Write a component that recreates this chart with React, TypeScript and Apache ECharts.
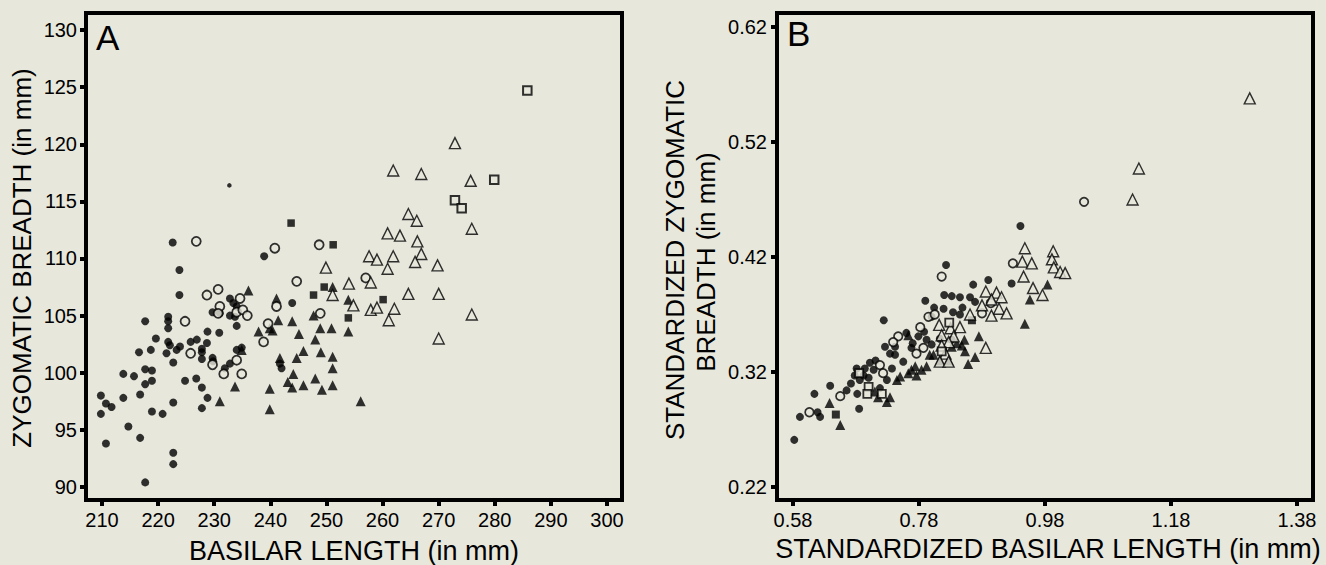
import React, { useEffect, useRef } from "react";
import * as echarts from "echarts";

// ---------- Panel A (raw values) ----------
const aFilledCircle: number[][] = [
  [222.6,111.4],[223.8,109.0],[238.9,110.2],[223.8,106.8],[217.7,104.5],[219.6,103.0],[218.7,102.0],[216.6,101.8],
  [213.8,99.9],[215.7,99.7],[217.7,100.3],[218.9,100.2],[218.9,99.3],[217.7,99.0],[216.8,98.1],[213.8,97.8],
  [209.8,98.0],[209.8,96.4],[210.7,97.3],[211.7,97.0],[210.7,93.8],[214.7,95.3],[216.8,94.3],[218.9,96.6],
  [220.8,96.4],[222.7,93.0],[222.7,92.0],[217.7,90.4],[222.7,97.4],[224.8,99.3],[226.8,99.5],[227.8,98.7],
  [228.8,97.8],[227.8,96.9],[222.7,100.9],[221.5,101.7],[222.1,102.4],[223.3,102.0],[223.9,102.3],[221.8,102.7],
  [221.8,103.9],[221.8,104.5],[221.8,104.9],[225.8,102.7],[226.9,102.9],[227.8,102.1],[227.8,101.8],[228.7,102.6],
  [228.8,103.6],[227.8,101.2],[229.7,101.3],[229.8,101.0],[230.9,103.5],[229.7,105.3],[231.0,105.2],[232.8,106.5],
  [233.4,106.1],[232.8,105.0],[233.7,104.9],[234.0,105.8],[234.0,104.1],[234.9,102.2],[234.0,102.0],[232.8,100.8],
  [231.9,100.4],[243.9,106.1],[241.7,100.8],[242.0,100.4]
];
const aOpenCircle: number[][] = [
  [226.8,111.5],[240.8,110.9],[248.7,111.2],[244.7,108.0],[257.0,108.3],[228.7,106.8],[230.7,107.3],[224.8,104.5],
  [225.8,101.7],[229.7,100.7],[231.0,105.8],[230.7,105.2],[234.6,106.5],[234.0,105.3],[235.1,105.5],[235.9,105.0],
  [234.0,101.1],[231.7,99.9],[234.9,99.9],[238.8,102.7],[239.6,104.3],[241.1,105.8],[248.9,105.2]
];
const aFilledTriangle: number[][] = [
  [236.1,107.2],[241.1,106.5],[241.4,104.6],[239.9,103.9],[237.9,103.6],[240.4,103.7],[243.9,104.5],[245.1,103.4],
  [247.7,105.0],[248.9,103.9],[250.9,103.9],[248.0,102.9],[245.9,101.9],[244.7,101.3],[249.0,101.8],[251.1,101.4],
  [251.1,100.4],[251.1,98.9],[244.1,99.9],[243.1,99.2],[243.9,98.7],[245.9,98.9],[248.0,99.5],[249.2,98.5],
  [239.9,98.6],[239.9,96.8],[234.9,102.0],[233.7,98.8],[231.0,97.5],[256.1,97.5],[253.9,103.6],[253.9,106.4],
  [251.1,107.5],[241.7,101.3]
];
const aOpenTriangle: number[][] = [
  [272.9,120.1],[261.9,117.7],[266.9,117.4],[275.7,116.8],[264.6,113.9],[266.1,113.3],[260.9,112.2],[263.1,112.0],
  [275.9,112.6],[266.2,111.5],[266.9,110.4],[265.8,109.7],[257.6,110.2],[259.0,109.9],[261.9,110.2],[260.9,109.1],
  [269.8,109.4],[249.9,109.2],[254.0,107.8],[257.9,107.9],[251.1,106.8],[254.8,105.9],[257.9,105.5],[259.0,105.7],
  [262.1,105.6],[261.1,104.6],[264.6,106.9],[270.0,106.9],[275.9,105.1],[270.0,103.0]
];
const aFilledSquare: number[][] = [[243.7,113.1],[251.2,111.2],[247.7,106.8],[249.6,107.5],[260.1,106.4],[253.9,104.8]];
const aOpenSquare: number[][] = [[285.8,124.7],[279.9,116.9],[272.9,115.1],[274.1,114.4]];
const aSmallDot: number[][] = [[232.7,116.4]];

// ---------- Panel B (standardized values) ----------
const bFilledCircle: number[][] = [
  [0.823,0.413],[0.941,0.447],[0.927,0.397],[0.866,0.396],[0.890,0.400],[0.820,0.387],[0.832,0.386],[0.845,0.385],
  [0.861,0.385],[0.790,0.382],[0.804,0.376],[0.819,0.375],[0.834,0.372],[0.849,0.376],[0.869,0.381],[0.724,0.365],
  [0.845,0.370],[0.800,0.368],[0.760,0.354],[0.779,0.351],[0.788,0.355],[0.792,0.348],[0.800,0.344],[0.813,0.349],
  [0.832,0.348],[0.726,0.342],[0.742,0.342],[0.734,0.336],[0.742,0.335],[0.768,0.341],[0.755,0.329],[0.737,0.323],
  [0.702,0.328],[0.694,0.323],[0.692,0.317],[0.681,0.323],[0.678,0.317],[0.672,0.310],[0.665,0.304],[0.682,0.301],
  [0.729,0.313],[0.718,0.306],[0.639,0.308],[0.614,0.301],[0.591,0.281],[0.619,0.285],[0.623,0.281],[0.685,0.288],
  [0.582,0.261],[0.686,0.313],[0.708,0.322],[0.770,0.345],[0.711,0.330],[0.700,0.315]
];
const bOpenCircle: number[][] = [
  [0.816,0.403],[1.042,0.468],[0.929,0.4145],[0.894,0.380],[0.880,0.371],[0.795,0.368],[0.805,0.370],[0.782,0.359],
  [0.747,0.351],[0.739,0.346],[0.787,0.341],[0.776,0.336],[0.718,0.326],[0.723,0.319],[0.655,0.299],[0.606,0.285]
];
const bFilledTriangle: number[][] = [
  [0.984,0.396],[0.956,0.383],[0.948,0.362],[0.875,0.351],[0.852,0.348],[0.848,0.343],[0.853,0.338],[0.869,0.333],
  [0.858,0.327],[0.840,0.345],[0.832,0.342],[0.827,0.330],[0.813,0.330],[0.803,0.335],[0.797,0.335],[0.792,0.325],
  [0.774,0.325],[0.763,0.319],[0.750,0.316],[0.776,0.317],[0.745,0.313],[0.763,0.352],[0.734,0.298],[0.729,0.294],
  [0.715,0.298],[0.710,0.303],[0.638,0.293],[0.655,0.274],[0.784,0.322],[0.768,0.322]
];
const bOpenTriangle: number[][] = [
  [1.305,0.558],[1.129,0.497],[1.119,0.470],[0.948,0.4276],[0.944,0.416],[0.959,0.4145],[0.946,0.403],[0.993,0.425],
  [0.991,0.418],[0.994,0.411],[1.004,0.407],[1.012,0.406],[0.961,0.393],[0.976,0.387],[0.886,0.390],[0.903,0.389],
  [0.911,0.385],[0.895,0.383],[0.880,0.378],[0.907,0.375],[0.919,0.371],[0.895,0.369],[0.861,0.370],[0.812,0.361],
  [0.845,0.359],[0.830,0.358],[0.816,0.352],[0.835,0.351],[0.827,0.346],[0.816,0.343],[0.822,0.336],[0.813,0.329],
  [0.827,0.329],[0.886,0.341]
];
const bOpenSquare: number[][] = [[0.828,0.363],[0.816,0.338],[0.685,0.319],[0.700,0.307],[0.698,0.301],[0.721,0.301]];
const bFilledSquare: number[][] = [[0.864,0.365],[0.648,0.283]];

// ---------- Ticks ----------
const aXTicks = [210, 220, 230, 240, 250, 260, 270, 280, 290, 300];
const aYTicks = [90, 95, 100, 105, 110, 115, 120, 125, 130];
const bXTicks = [0.58, 0.78, 0.98, 1.18, 1.38];
const bYTicks = [0.22, 0.32, 0.42, 0.52, 0.62];

const BG = "#e7e7dc";
const INK = "#000000";
const FONT = "Liberation Sans";

export default function App() {
  const ref = useRef<HTMLDivElement>(null);
  useEffect(() => {
    if (!ref.current) return;
    const chart = echarts.init(ref.current, undefined, { renderer: "svg" });

    const axisCommon = (ticks: number[], fmt: (v: number) => string, margin: number) => ({
      type: "value" as const,
      axisLine: { show: true, lineStyle: { color: INK, width: 4 } },
      axisTick: { show: true, inside: false, length: 6, lineStyle: { color: INK, width: 4 }, customValues: ticks },
      axisLabel: {
        show: true, color: INK, fontSize: 20, fontFamily: FONT, margin,
        customValues: ticks, formatter: (v: number) => fmt(v),
      },
      splitLine: { show: false },
    });

    const filled = (sym: string, size: number) => ({ symbol: sym, symbolSize: size, itemStyle: { color: INK, borderWidth: 0 } });
    const open = (sym: string, size: number, bw: number) => ({ symbol: sym, symbolSize: size, itemStyle: { color: BG, borderColor: INK, borderWidth: bw } });

    const mk = (data: number[][], idx: number, style: any) => ({
      type: "scatter", xAxisIndex: idx, yAxisIndex: idx, data, silent: true, ...style,
    });

    const titleStyle = (text: string, fontSize: number) => ({ text, fill: INK, fontSize, fontFamily: FONT });

    chart.setOption({
      animation: false,
      backgroundColor: BG,
      grid: [
        { left: 86, top: 13, width: 536, height: 487, show: true, borderColor: INK, borderWidth: 4, backgroundColor: "transparent" },
        { left: 777, top: 13, width: 536, height: 487, show: true, borderColor: INK, borderWidth: 4, backgroundColor: "transparent" },
      ],
      xAxis: [
        { ...axisCommon(aXTicks, (v) => String(v), 10), gridIndex: 0, min: 207.15, max: 302.67 },
        { ...axisCommon(bXTicks, (v) => v.toFixed(2), 10), gridIndex: 1, min: 0.5546, max: 1.4054 },
      ],
      yAxis: [
        { ...axisCommon(aYTicks, (v) => String(v), 9), gridIndex: 0, min: 88.86, max: 131.49 },
        { ...axisCommon(bYTicks, (v) => v.toFixed(2), 10), gridIndex: 1, min: 0.2087, max: 0.6322 },
      ],
      series: [
        mk(aFilledCircle, 0, filled("circle", 8)),
        mk(aSmallDot, 0, filled("circle", 4.5)),
        mk(aFilledTriangle, 0, filled("triangle", 10)),
        mk(aFilledSquare, 0, filled("rect", 7.5)),
        mk(aOpenCircle, 0, open("circle", 9, 1.8)),
        mk(aOpenTriangle, 0, open("triangle", 11, 1.4)),
        mk(aOpenSquare, 0, open("rect", 8.5, 2)),
        mk(bFilledCircle, 1, filled("circle", 8)),
        mk(bFilledTriangle, 1, filled("triangle", 10)),
        mk(bFilledSquare, 1, filled("rect", 8)),
        mk(bOpenCircle, 1, open("circle", 8.5, 1.7)),
        mk(bOpenTriangle, 1, open("triangle", 11, 1.4)),
        mk(bOpenSquare, 1, open("rect", 8, 1.8)),
      ],
      graphic: [
        { type: "text", left: 96, top: 20, style: titleStyle("A", 35) },
        { type: "text", left: 787, top: 16, style: titleStyle("B", 35) },
        {
          type: "text", x: 22, y: 258, rotation: Math.PI / 2,
          style: { ...titleStyle("ZYGOMATIC BREADTH (in mm)", 26), align: "center", verticalAlign: "middle" },
        },
        {
          type: "text", x: 354, y: 551,
          style: { ...titleStyle("BASILAR LENGTH (in mm)", 27), align: "center", verticalAlign: "middle" },
        },
        {
          type: "text", x: 675, y: 260, rotation: Math.PI / 2,
          style: { ...titleStyle("STANDARDIZED ZYGOMATIC", 26), align: "center", verticalAlign: "middle" },
        },
        {
          type: "text", x: 706, y: 262, rotation: Math.PI / 2,
          style: { ...titleStyle("BREADTH (in mm)", 26), align: "center", verticalAlign: "middle" },
        },
        {
          type: "text", x: 1048, y: 549,
          style: { ...titleStyle("STANDARDIZED BASILAR LENGTH (in mm)", 27), align: "center", verticalAlign: "middle" },
        },
      ],
    });
    return () => chart.dispose();
  }, []);
  return <div ref={ref} style={{ position: "absolute", left: 0, top: 0, width: 1326, height: 565 }} />;
}
